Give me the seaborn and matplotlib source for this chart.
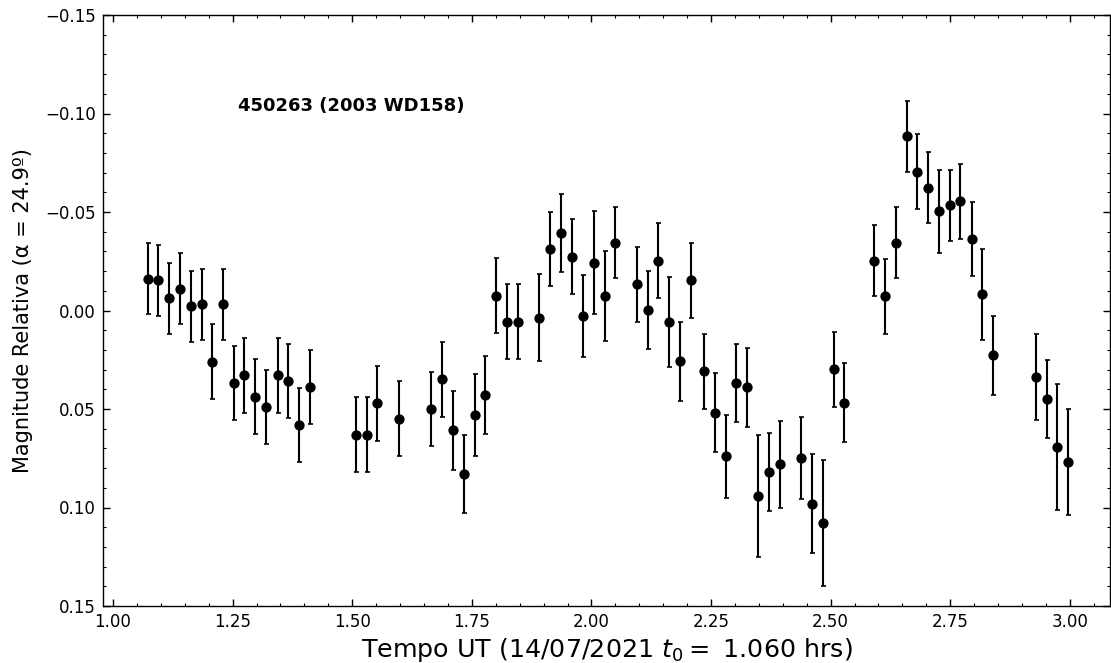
import matplotlib
matplotlib.use("Agg")
import matplotlib.pyplot as plt
from matplotlib.ticker import AutoMinorLocator, MultipleLocator
import seaborn as sns
import pandas as pd

# Time (hours UT)
tempo = [1.0725, 1.0946, 1.117, 1.139, 1.162, 1.185, 1.2075, 1.230, 1.252, 1.274,
         1.297, 1.320, 1.344, 1.366, 1.389, 1.411,
         1.507, 1.530, 1.552, 1.598, 1.665, 1.688, 1.710, 1.7335, 1.756, 1.778,
         1.800, 1.824, 1.846, 1.891, 1.914, 1.937, 1.959, 1.982, 2.005, 2.028,
         2.050, 2.096, 2.119, 2.140, 2.163, 2.186, 2.208, 2.235, 2.258, 2.281,
         2.303, 2.325, 2.349, 2.372, 2.394, 2.439, 2.461, 2.484, 2.507, 2.529,
         2.590, 2.613, 2.636, 2.659, 2.681, 2.703, 2.726, 2.749, 2.771, 2.795,
         2.817, 2.839, 2.930, 2.952, 2.974, 2.997]

# Relative magnitude
magnitude = [-0.0161, -0.0153, -0.0063, -0.0110, -0.0021, -0.0031, 0.0260, -0.0031, 0.0368, 0.0329,
             0.0437, 0.0490, 0.0329, 0.0358, 0.0581, 0.0388,
             0.0630, 0.0630, 0.0470, 0.0549, 0.0500, 0.0349, 0.0608, 0.0830, 0.0530, 0.0429,
             -0.0074, 0.0058, 0.0058, 0.0036, -0.0312, -0.0393, -0.0273, 0.0028, -0.0243, -0.0074,
             -0.0343, -0.0133, -0.0003, -0.0253, 0.0058, 0.0258, -0.0153, 0.0309, 0.0519, 0.0740,
             0.0368, 0.0390, 0.0942, 0.0820, 0.0780, 0.0749, 0.0980, 0.1080, 0.0299, 0.0468,
             -0.0253, -0.0072, -0.0344, -0.0884, -0.0705, -0.0623, -0.0503, -0.0534, -0.0554, -0.0363,
             -0.0082, 0.0227, 0.0338, 0.0449, 0.0691, 0.0770]

# Magnitude error
erro = [0.018, 0.018, 0.018, 0.018, 0.018, 0.018, 0.019, 0.018, 0.019, 0.019,
        0.019, 0.019, 0.019, 0.019, 0.019, 0.019,
        0.019, 0.019, 0.019, 0.019, 0.019, 0.019, 0.020, 0.020, 0.021, 0.020,
        0.019, 0.019, 0.019, 0.022, 0.019, 0.020, 0.019, 0.021, 0.026, 0.023,
        0.018, 0.019, 0.020, 0.019, 0.023, 0.020, 0.019, 0.019, 0.020, 0.021,
        0.020, 0.020, 0.031, 0.020, 0.022, 0.021, 0.025, 0.032, 0.019, 0.020,
        0.018, 0.019, 0.018, 0.018, 0.019, 0.018, 0.021, 0.018, 0.019, 0.019,
        0.023, 0.020, 0.022, 0.020, 0.032, 0.027]

titulo = "450263 (2003 WD158)"
xlabel = r"Tempo UT (14/07/2021 $t_0 =$ 1.060 hrs)"
ylabel = "Magnitude Relativa (α = 24.9º)"

df = pd.DataFrame({"t": tempo, "mag": magnitude, "err": erro})

sns.set_style("white")
plt.rcParams["font.family"] = ["DejaVu Sans"]
plt.rcParams["text.color"] = "black"
plt.rcParams["axes.labelcolor"] = "black"
plt.rcParams["xtick.color"] = "black"
plt.rcParams["ytick.color"] = "black"

fig = plt.figure(figsize=(11.11, 6.63), dpi=100)
ax = fig.add_axes([103 / 1111, 1 - 606 / 663, (1110 - 103) / 1111, (606 - 15) / 663])

ax.errorbar(df["t"], df["mag"], yerr=df["err"], fmt="none", ecolor="black",
            elinewidth=1.5, capsize=1.8, capthick=1.2, zorder=2)
sns.scatterplot(data=df, x="t", y="mag", ax=ax, color="black", s=55,
                edgecolor="black", linewidth=0, zorder=3, legend=False)

ax.set_xlim(0.979, 3.084)
ax.set_ylim(0.15, -0.15)
ax.xaxis.set_major_locator(MultipleLocator(0.25))
ax.yaxis.set_major_locator(MultipleLocator(0.05))
ax.xaxis.set_minor_locator(AutoMinorLocator(5))
ax.yaxis.set_minor_locator(AutoMinorLocator(5))
ax.xaxis.set_major_formatter(matplotlib.ticker.FormatStrFormatter("%.2f"))
ax.yaxis.set_major_formatter(matplotlib.ticker.FuncFormatter(
    lambda v, p: ("%.2f" % v).replace("-", "\u2212") if abs(v) > 1e-9 else "0.00"))

ax.tick_params(which="both", direction="in", top=True, right=True,
               bottom=True, left=True, colors="black", labelcolor="black",
               labelsize=12, pad=5)
ax.tick_params(which="major", length=5, width=1)
ax.tick_params(which="minor", length=2.5, width=0.8)
for sp in ax.spines.values():
    sp.set_visible(True)
    sp.set_color("black")
    sp.set_linewidth(1.0)

ax.set_xlabel(xlabel, fontsize=18.3, labelpad=4, color="black")
ax.set_ylabel(ylabel, fontsize=15, labelpad=9, color="black")
ax.text(1.261, -0.1038, titulo, fontsize=13, fontweight="bold",
        ha="left", va="center", color="black")

fig.savefig("out.png", dpi=100)
